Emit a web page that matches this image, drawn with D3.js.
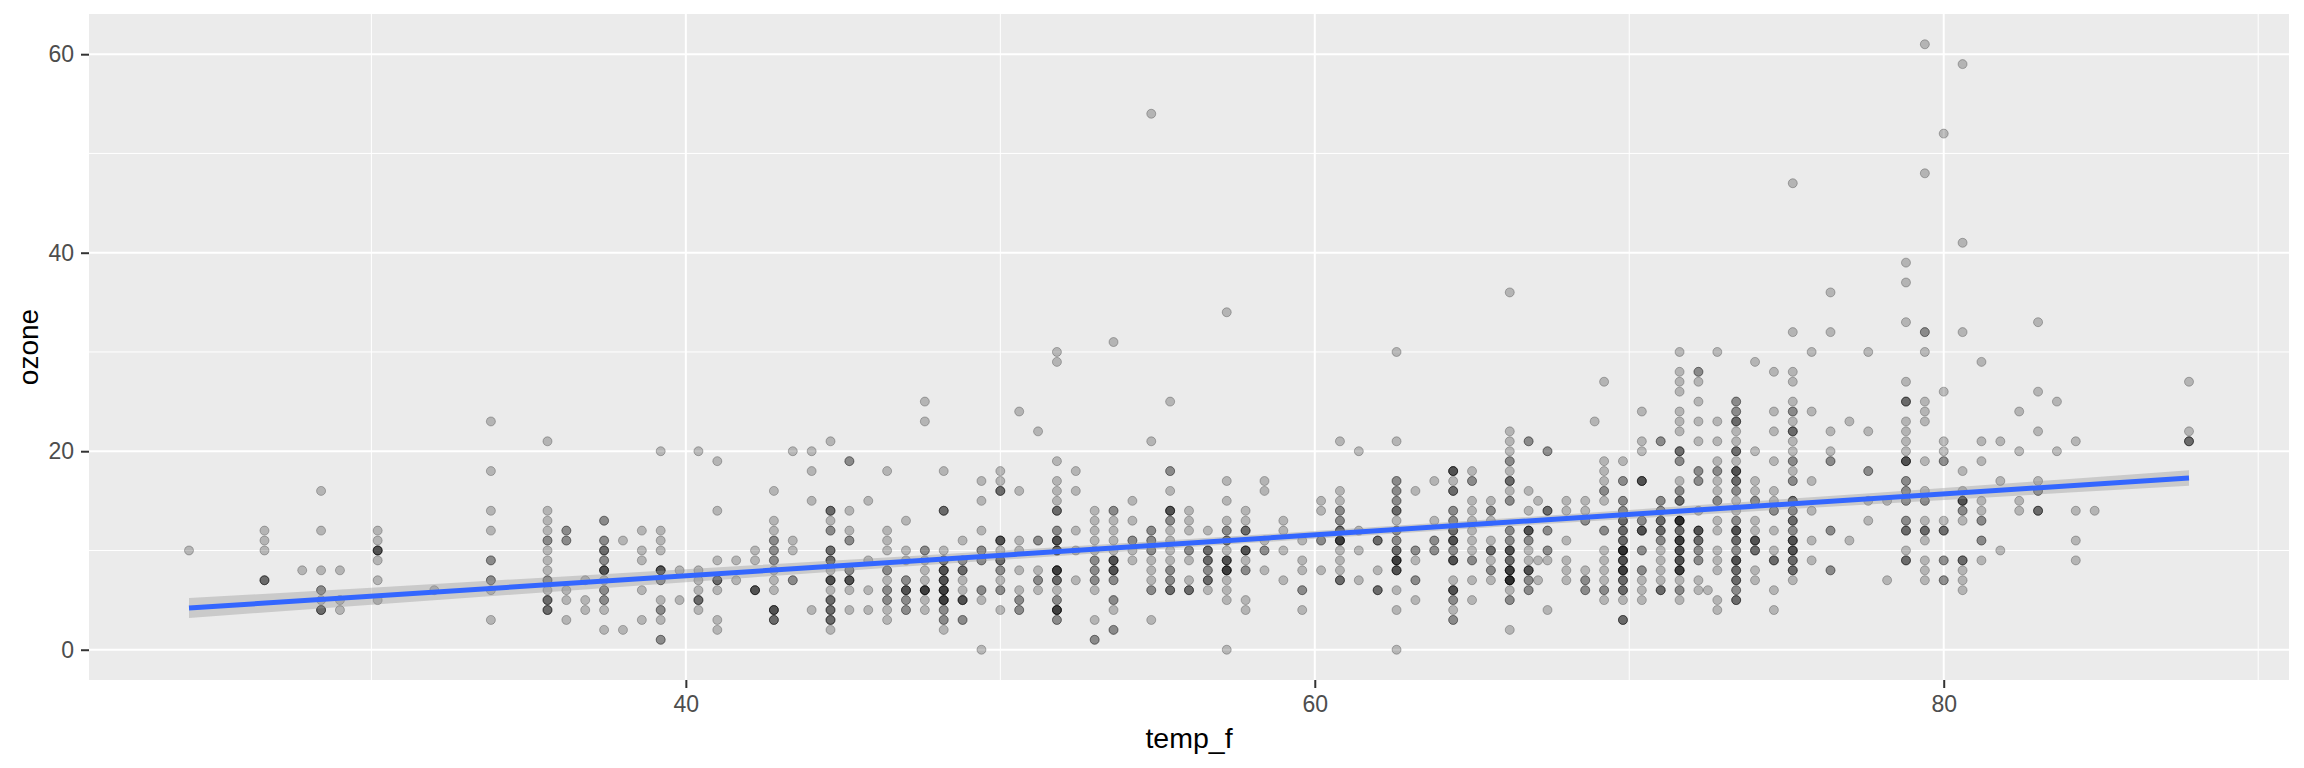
<!DOCTYPE html>
<html>
<head>
<meta charset="utf-8">
<script src="https://d3js.org/d3.v7.min.js"></script>
<style>
html,body{margin:0;padding:0;background:#fff}
svg{display:block}
text{font-family:"Liberation Sans",Arial,sans-serif}
</style>
</head>
<body>
<svg id="chart" width="2304" height="768"></svg>
<script>
const xTicks = [40, 60, 80];
const yTicks = [0, 20, 40, 60];
const xMinor = [30, 50, 70, 90];
const yMinor = [10, 30, 50];
const xTitle = "temp_f";
const yTitle = "ozone";

const tempColumns = [
24.2,26.6,27.8,28.4,29.0,30.2,32.0,33.8,35.6,36.2,36.8,37.4,38.0,38.6,39.2,39.8,40.4,41.0,41.6,42.2,
42.8,43.4,44.0,44.6,45.2,45.8,46.4,47.0,47.6,48.2,48.8,49.4,50.0,50.6,51.2,51.8,52.4,53.0,53.6,54.2,
54.8,55.4,56.0,56.6,57.2,57.8,58.4,59.0,59.6,60.2,60.8,61.4,62.0,62.6,63.2,63.8,64.4,65.0,65.6,66.2,
66.8,67.1,67.4,68.0,68.6,68.9,69.2,69.8,70.4,71.0,71.6,72.2,72.5,72.8,73.4,74.0,74.6,75.2,75.8,76.4,
77.0,77.6,78.2,78.8,79.4,80.0,80.6,81.2,81.8,82.4,83.0,83.6,84.2,84.8,87.8
];

const ozoneColumns = [
[10],
[12,11,10,7,7,7],
[8],
[16,12,8,6,6,5,4,4,4],
[8,5,4],
[12,11,10,10,10,10,9,7,5],
[6],
[23,18,14,12,9,9,7,7,6,3],
[21,14,13,12,11,11,10,9,8,7,7,6,5,5,5,4,4,4],
[12,12,11,11,6,5,3],
[7,5,4],
[13,13,11,11,10,10,10,9,9,8,8,8,8,7,6,6,5,5,4,2],
[11,2],
[12,10,9,6,3],
[20,12,11,10,8,8,8,8,7,7,5,4,4,3,1,1],
[8,5],
[20,8,7,6,5,5,5,4],
[19,14,9,7,7,7,6,3,2],
[9,7],
[10,9,6,6,6,6],
[16,13,12,11,11,10,10,9,9,8,7,6,4,4,4,4,3,3,3],
[20,11,10,7,7],
[20,18,15,4],
[21,14,14,14,13,12,12,10,10,10,9,9,9,8,7,7,7,7,6,5,5,5,4,4,4,3,3,3,2],
[19,19,14,12,11,11,8,8,7,7,7,7,6,4],
[15,9,6,4],
[18,12,11,10,8,8,7,6,6,5,5,4,3],
[13,10,9,7,7,6,6,6,6,5,5,4,4],
[25,23,10,10,9,8,7,6,6,6,6,6,5,4],
[18,14,14,14,10,9,9,9,8,8,8,8,7,7,7,7,6,6,6,6,6,5,5,5,5,5,4,4,3,3,2],
[11,9,9,8,8,8,7,6,5,5,5,5,3,3],
[17,15,12,10,10,9,9,6,6,5,0],
[18,17,16,16,16,11,11,11,11,10,9,9,9,8,8,7,6,6,4],
[24,16,11,10,8,6,5,5,4,4],
[22,11,11,8,7,7,6],
[30,29,19,17,16,15,14,14,14,12,12,11,11,11,11,10,10,10,10,8,8,8,8,8,7,7,7,6,5,5,4,4,4,4,4,3,3],
[18,16,12,10,7],
[14,13,12,11,10,9,9,8,8,7,7,6,3,1,1],
[31,14,14,13,12,11,10,9,9,9,9,8,8,8,8,7,7,5,5,4,2,2],
[15,13,11,11,10,9],
[54,21,12,12,11,11,10,10,9,8,7,6,6,3],
[25,18,18,16,14,14,14,14,13,13,12,11,10,9,8,8,7,7,6,6,6],
[14,13,12,10,10,9,7,6,6,6],
[12,10,10,10,9,9,9,8,8,7,7,7,6],
[34,17,15,13,12,12,11,11,11,10,9,9,9,9,8,8,8,8,8,7,6,5,0],
[14,13,12,12,12,10,10,10,10,9,8,8,5,4],
[17,16,11,10,10,8],
[13,12,10,7],
[11,9,8,6,6,4],
[15,14,11,11,8],
[21,16,15,14,14,13,13,12,12,12,11,11,11,11,11,10,9,8,7,7,7],
[20,12,10,7],
[11,11,11,8,6,6,6],
[30,21,17,17,16,16,15,15,14,14,14,13,12,12,11,11,10,10,10,9,9,9,9,9,8,8,8,8,6,4,0],
[16,10,10,9,7,7,5],
[17,13,11,11,10,10],
[18,18,18,18,17,16,16,16,14,14,13,13,12,12,12,11,11,11,11,10,10,9,9,9,9,7,6,6,6,6,5,5,4,3,3],
[18,17,17,15,14,13,12,11,10,9,9,7,5],
[15,14,14,13,11,10,10,10,9,8,8,7],
[36,22,21,20,19,19,18,17,17,17,16,15,15,12,12,11,11,10,10,10,10,9,9,9,8,8,8,8,8,7,7,7,7,7,7,6,5,5,2],
[21,21,16,14,12,12,12,12,11,11,10,9,8,8,8,8,7,7,6,6],
[15,9,7],
[20,20,14,14,14,12,12,10,10,9,4],
[15,14,11,9,8,7],
[15,14,13,13,8,7,7,6,6],
[23],
[27,19,18,17,16,16,15,12,12,10,9,8,7,6,6,5],
[19,17,17,15,15,14,14,13,13,13,12,12,12,11,11,11,10,10,10,10,10,10,9,9,9,9,8,8,8,8,8,7,7,7,6,6,6,5,3,3,3],
[24,21,20,17,17,17,17,13,13,12,12,12,12,10,10,8,8,7,6,5],
[21,21,15,15,14,14,13,13,13,12,12,12,11,11,10,9,8,7,6,6,6],
[30,28,27,26,24,23,22,20,20,20,19,19,17,16,16,15,15,15,13,13,13,13,13,13,12,12,12,11,11,11,11,11,10,10,10,10,9,9,9,9,8,8,8,8,8,7,6,6,5],
[28,28,27,25,23,21,18,18,17,17,14,12,12,12,12,11,11,11,10,10,9,9,7,6],
[6],
[30,23,21,19,18,18,17,16,15,15,13,12,10,9,8,5,4],
[25,25,24,24,23,23,23,22,21,20,20,20,19,18,18,18,18,17,17,17,16,16,15,14,13,13,12,12,12,12,11,11,11,10,10,9,9,9,9,8,8,8,7,7,7,6,6,5,5,5],
[29,20,17,16,15,15,13,12,11,11,11,11,10,10,10,8,7],
[28,24,22,19,16,15,14,14,12,10,9,9,9,6,4],
[47,32,28,27,25,24,24,23,22,22,22,21,20,19,19,18,17,17,15,15,15,14,14,13,13,13,12,12,11,11,11,11,10,10,10,10,9,9,9,8,8,8,7],
[30,24,17,14,11,9],
[36,32,22,20,19,19,12,12,8,8],
[23,11],
[30,22,18,18,15,13],
[15,7],
[39,37,33,27,25,25,25,23,22,21,20,19,19,19,19,17,17,16,16,15,15,13,13,12,12,12,10,9,9,9],
[61,48,32,32,30,25,24,23,19,16,15,15,13,12,12,12,11,9,8,7],
[52,26,21,20,19,19,13,12,12,12,9,9,7,7],
[59,41,32,18,16,15,15,15,15,14,14,13,9,9,9,8,7,6],
[29,21,19,15,14,13,13,11,11,9],
[21,17,10],
[24,20,15,14],
[33,26,22,17,16,16,14,14,14],
[25,20],
[21,14,11,9],
[14],
[27,22,21,21,21]
];

const bandTemp = [24.2,30,36,42,48,54,60,66,72,78,84,87.8];
const bandLow  = [3.2,4.53,5.90,7.26,8.60,9.92,11.19,12.41,13.58,14.71,15.83,16.52];
const bandHigh = [5.2,6.25,7.36,8.48,9.60,10.76,11.95,13.21,14.52,15.85,17.21,18.08];
const fitTemp = [24.2,87.8];
const fitOzone = [4.2,17.3];

const W = 2304, H = 768;
const panel = {left:89, right:2289, top:14, bottom:680};
const x = d3.scaleLinear().domain([21.02,90.98]).range([panel.left,panel.right]);
const y = d3.scaleLinear().domain([-3.05,64.05]).range([panel.bottom,panel.top]);

const svg = d3.select("#chart");
svg.append("rect").attr("width",W).attr("height",H).attr("fill","#fff");
svg.append("rect").attr("x",panel.left).attr("y",panel.top)
  .attr("width",panel.right-panel.left).attr("height",panel.bottom-panel.top).attr("fill","#ebebeb");

const grid = svg.append("g");
grid.selectAll(".ymin").data(yMinor).join("line")
  .attr("x1",panel.left).attr("x2",panel.right).attr("y1",d=>y(d)).attr("y2",d=>y(d))
  .attr("stroke","#fff").attr("stroke-width",1);
grid.selectAll(".xmin").data(xMinor).join("line")
  .attr("y1",panel.top).attr("y2",panel.bottom).attr("x1",d=>x(d)).attr("x2",d=>x(d))
  .attr("stroke","#fff").attr("stroke-width",1);
grid.selectAll(".ymaj").data(yTicks).join("line")
  .attr("x1",panel.left).attr("x2",panel.right).attr("y1",d=>y(d)).attr("y2",d=>y(d))
  .attr("stroke","#fff").attr("stroke-width",2);
grid.selectAll(".xmaj").data(xTicks).join("line")
  .attr("y1",panel.top).attr("y2",panel.bottom).attr("x1",d=>x(d)).attr("x2",d=>x(d))
  .attr("stroke","#fff").attr("stroke-width",2);

const points = tempColumns.flatMap((t,i)=>ozoneColumns[i].map(o=>({t,o})));
svg.append("g").selectAll("circle").data(points).join("circle")
  .attr("cx",d=>x(d.t)).attr("cy",d=>y(d.o)).attr("r",4.5)
  .attr("fill","#000").attr("fill-opacity",0.23)
  .attr("stroke","#000").attr("stroke-opacity",0.25).attr("stroke-width",1);

const band = d3.area().x((d,i)=>x(bandTemp[i])).y0((d,i)=>y(bandLow[i])).y1((d,i)=>y(bandHigh[i]));
svg.append("path").attr("d",band(bandTemp)).attr("fill","#999").attr("fill-opacity",0.4);
const line = d3.line().x((d,i)=>x(fitTemp[i])).y((d,i)=>y(fitOzone[i]));
svg.append("path").attr("d",line(fitTemp)).attr("fill","none").attr("stroke","#3366FF").attr("stroke-width",5);

const xAxis = d3.axisBottom(x).tickValues(xTicks).tickSize(8).tickPadding(8).tickFormat(d3.format("d"));
const yAxis = d3.axisLeft(y).tickValues(yTicks).tickSize(8).tickPadding(7).tickFormat(d3.format("d"));
const gx = svg.append("g").attr("transform",`translate(0,${panel.bottom})`).call(xAxis);
const gy = svg.append("g").attr("transform",`translate(${panel.left},0)`).call(yAxis);
[gx,gy].forEach(g=>{
  g.select(".domain").remove();
  g.selectAll(".tick line").attr("stroke","#333").attr("stroke-width",2);
  g.selectAll(".tick text").attr("fill","#4d4d4d").attr("font-size",23).attr("font-family","Liberation Sans, Arial, sans-serif");
});

svg.append("text").attr("x",(panel.left+panel.right)/2).attr("y",748).attr("text-anchor","middle")
  .attr("font-size",28.5).attr("fill","#000").text(xTitle);
svg.append("text").attr("transform",`translate(38,${(panel.top+panel.bottom)/2}) rotate(-90)`)
  .attr("text-anchor","middle").attr("font-size",28).attr("fill","#000").text(yTitle);
</script>
</body>
</html>
